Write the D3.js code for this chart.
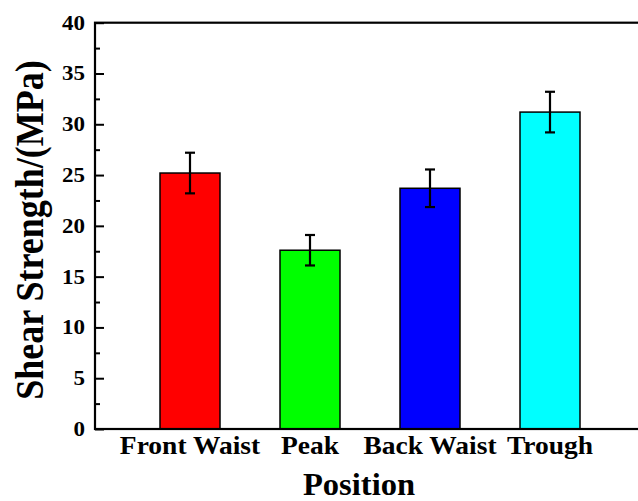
<!DOCTYPE html>
<html>
<head>
<meta charset="utf-8">
<script src="https://cdn.jsdelivr.net/npm/d3@7"></script>
<style>
  body { margin: 0; background: #fff; }
  text { font-family: "Liberation Serif", "Times New Roman", serif; font-weight: bold; fill: #000; }
</style>
</head>
<body>
<svg width="638" height="501"></svg>
<script>
const categories = ["Front Waist", "Peak", "Back Waist", "Trough"]
const strength = [25.2, 17.6, 23.7, 31.2]
const strengthErr = [2.0, 1.5, 1.85, 2.0]
const majorTicks = [0, 5, 10, 15, 20, 25, 30, 35, 40]
const minorTicks = [2.5, 7.5, 12.5, 17.5, 22.5, 27.5, 32.5, 37.5]

const barColors = ["#ff0000", "#00ff00", "#0000ff", "#00ffff"]

const svg = d3.select("svg")

const plotLeft = 95, plotTop = 22.7, plotBottom = 429, plotRight = 645

const x = d3.scaleBand()
    .domain(categories)
    .range([plotLeft, plotRight])
    .paddingInner(0.5)
    .paddingOuter(65/120)

const y = d3.scaleLinear()
    .domain([0, 40])
    .range([plotBottom, plotTop])

// bars
svg.selectAll("rect.bar")
    .data(strength)
    .enter()
    .append("rect")
    .attr("class", "bar")
    .attr("x", (d, i) => x(categories[i]))
    .attr("y", d => y(d))
    .attr("width", x.bandwidth())
    .attr("height", d => plotBottom - y(d))
    .attr("fill", (d, i) => barColors[i])
    .attr("stroke", "#000")
    .attr("stroke-width", 1.5)

// error bars
const errG = svg.selectAll("g.err")
    .data(strength)
    .enter()
    .append("g")
    .attr("class", "err")
    .attr("transform", (d, i) => "translate(" + (x(categories[i]) + x.bandwidth()/2) + ",0)")
    .attr("stroke", "#000")
    .attr("stroke-width", 2.2)

errG.append("line")
    .attr("y1", (d, i) => y(d - strengthErr[i]))
    .attr("y2", (d, i) => y(d + strengthErr[i]))
errG.append("line")
    .attr("x1", -5).attr("x2", 5)
    .attr("y1", (d, i) => y(d + strengthErr[i]))
    .attr("y2", (d, i) => y(d + strengthErr[i]))
errG.append("line")
    .attr("x1", -5).attr("x2", 5)
    .attr("y1", (d, i) => y(d - strengthErr[i]))
    .attr("y2", (d, i) => y(d - strengthErr[i]))

// frame
svg.append("rect")
    .attr("x", plotLeft)
    .attr("y", plotTop)
    .attr("width", plotRight - plotLeft)
    .attr("height", plotBottom - plotTop)
    .attr("fill", "none")
    .attr("stroke", "#000")
    .attr("stroke-width", 2.2)

// y axis, ticks inward
const yAxis = svg.append("g")
    .attr("transform", "translate(" + plotLeft + ",0)")
    .call(d3.axisLeft(y).tickValues(majorTicks).tickSizeInner(-9).tickSizeOuter(0).tickPadding(10))
yAxis.attr("font-family", "Liberation Serif, Times New Roman, serif")
    .attr("font-size", 20)
    .attr("font-weight", "bold")
yAxis.select(".domain").remove()
yAxis.selectAll(".tick line").attr("stroke-width", 2)
yAxis.selectAll(".tick text")
    .style("font-family", "'Liberation Serif', 'Times New Roman', serif")
    .style("font-size", "20px")
    .attr("x", -10/1.15)
    .attr("transform", "scale(1.15,1)")

const yMinor = svg.append("g")
    .attr("transform", "translate(" + plotLeft + ",0)")
    .call(d3.axisLeft(y).tickValues(minorTicks).tickSizeInner(-5).tickSizeOuter(0).tickFormat(""))
yMinor.select(".domain").remove()
yMinor.selectAll(".tick line").attr("stroke-width", 2)

// category labels
svg.selectAll("text.cat")
    .data(categories)
    .enter()
    .append("text")
    .attr("class", "cat")
    .attr("text-anchor", "middle")
    .attr("font-size", 25)
    .attr("transform", d => "translate(" + (x(d) + x.bandwidth()/2) + ",454) scale(1.1,1)")
    .text(d => d)

svg.append("text")
    .attr("text-anchor", "middle")
    .attr("font-size", 31)
    .attr("transform", "translate(359,495) scale(1.05,1)")
    .text("Position")

svg.append("text")
    .attr("text-anchor", "middle")
    .attr("font-size", 36)
    .attr("transform", "translate(43,230) scale(1.13,1) rotate(-90)")
    .text("Shear Strength/(MPa)")
</script>
</body>
</html>
